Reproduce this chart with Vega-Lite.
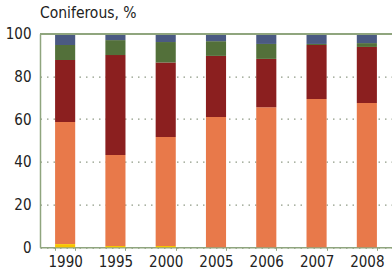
{
  "$schema": "https://vega.github.io/schema/vega-lite/v6.json",
  "autosize": "none",
  "width": 352,
  "height": 213.6,
  "padding": {"left": 40, "top": 33.7, "right": 0, "bottom": 25.7},
  "background": "white",
  "config": {
    "view": {"stroke": null},
    "font": "DejaVu Sans Condensed",
    "axis": {"labelFont": "DejaVu Sans Condensed", "labelFontSize": 15, "labelColor": "#222222"}
  },
  "title": {
    "text": "Coniferous, %",
    "anchor": "start",
    "frame": "group",
    "font": "DejaVu Sans Condensed",
    "fontSize": 15.5,
    "fontWeight": "normal",
    "color": "#222222",
    "offset": 5
  },
  "data": {
    "values": [
      {"year": "1990", "cat": "c1", "ord": 1, "v": 1.5},
      {"year": "1990", "cat": "c2", "ord": 2, "v": 57.2},
      {"year": "1990", "cat": "c3", "ord": 3, "v": 29.0},
      {"year": "1990", "cat": "c4", "ord": 4, "v": 7.0},
      {"year": "1990", "cat": "c5", "ord": 5, "v": 5.3},
      {"year": "1995", "cat": "c1", "ord": 1, "v": 0.6},
      {"year": "1995", "cat": "c2", "ord": 2, "v": 42.6},
      {"year": "1995", "cat": "c3", "ord": 3, "v": 46.8},
      {"year": "1995", "cat": "c4", "ord": 4, "v": 7.0},
      {"year": "1995", "cat": "c5", "ord": 5, "v": 3.0},
      {"year": "2000", "cat": "c1", "ord": 1, "v": 0.6},
      {"year": "2000", "cat": "c2", "ord": 2, "v": 51.0},
      {"year": "2000", "cat": "c3", "ord": 3, "v": 34.9},
      {"year": "2000", "cat": "c4", "ord": 4, "v": 9.6},
      {"year": "2000", "cat": "c5", "ord": 5, "v": 3.9},
      {"year": "2005", "cat": "c1", "ord": 1, "v": 0},
      {"year": "2005", "cat": "c2", "ord": 2, "v": 61.0},
      {"year": "2005", "cat": "c3", "ord": 3, "v": 28.6},
      {"year": "2005", "cat": "c4", "ord": 4, "v": 6.9},
      {"year": "2005", "cat": "c5", "ord": 5, "v": 3.5},
      {"year": "2006", "cat": "c1", "ord": 1, "v": 0},
      {"year": "2006", "cat": "c2", "ord": 2, "v": 65.6},
      {"year": "2006", "cat": "c3", "ord": 3, "v": 22.6},
      {"year": "2006", "cat": "c4", "ord": 4, "v": 7.0},
      {"year": "2006", "cat": "c5", "ord": 5, "v": 4.8},
      {"year": "2007", "cat": "c1", "ord": 1, "v": 0},
      {"year": "2007", "cat": "c2", "ord": 2, "v": 69.4},
      {"year": "2007", "cat": "c3", "ord": 3, "v": 25.3},
      {"year": "2007", "cat": "c4", "ord": 4, "v": 0.5},
      {"year": "2007", "cat": "c5", "ord": 5, "v": 4.8},
      {"year": "2008", "cat": "c1", "ord": 1, "v": 0},
      {"year": "2008", "cat": "c2", "ord": 2, "v": 67.5},
      {"year": "2008", "cat": "c3", "ord": 3, "v": 26.3},
      {"year": "2008", "cat": "c4", "ord": 4, "v": 1.8},
      {"year": "2008", "cat": "c5", "ord": 5, "v": 4.4}
    ]
  },
  "layer": [
    {
      "mark": {"type": "bar"},
      "encoding": {
        "x": {
          "field": "year",
          "type": "nominal",
          "sort": null,
          "scale": {"paddingInner": 0.6, "paddingOuter": 0.3},
          "axis": {
            "title": null,
            "labelAngle": 0,
            "domainColor": "#8fa57e",
            "domainWidth": 1.5,
            "tickBand": "extent",
            "tickColor": "#8fa57e",
            "tickSize": 3,
            "labelPadding": 4
          }
        },
        "y": {
          "field": "v",
          "type": "quantitative",
          "stack": "zero",
          "scale": {"domain": [0, 100], "nice": false},
          "axis": {
            "title": null,
            "values": [0, 20, 40, 60, 80, 100],
            "ticks": false,
            "labelPadding": 9,
            "domainColor": "#8fa57e",
            "domainWidth": 1.5,
            "grid": true,
            "gridColor": "#8f9a86",
            "gridDash": [1.5, 5],
            "gridWidth": 1.2
          }
        },
        "color": {
          "field": "cat",
          "type": "nominal",
          "scale": {"domain": ["c1", "c2", "c3", "c4", "c5"], "range": ["#f7c400", "#e8794a", "#8b1f1f", "#53703a", "#4b5a82"]},
          "legend": null
        },
        "order": {"field": "ord", "type": "quantitative"}
      }
    },
    {
      "mark": {"type": "rule", "color": "#8fa57e", "strokeWidth": 1.5},
      "encoding": {"y": {"datum": 100, "type": "quantitative"}}
    }
  ]
}
